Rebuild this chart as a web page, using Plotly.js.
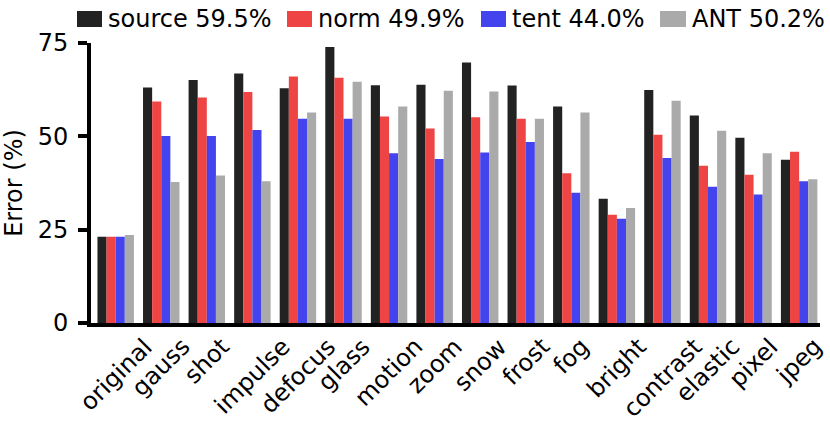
<!DOCTYPE html>
<html>
<head>
<meta charset="utf-8">
<script src="https://cdn.plot.ly/plotly-3.0.1.min.js"></script>
<style>
  html, body { margin: 0; padding: 0; background: #fff; }
  #chart { width: 830px; height: 429px; }
</style>
</head>
<body>
<div id="chart"></div>
<script>
var CATEGORIES = ['original', 'gauss', 'shot', 'impulse', 'defocus', 'glass', 'motion', 'zoom',
                  'snow', 'frost', 'fog', 'bright', 'contrast', 'elastic', 'pixel', 'jpeg'];

var SOURCE = [23.1, 63.1, 65.1, 66.8, 62.9, 73.9, 63.7, 63.8, 69.8, 63.6, 58.0, 33.3, 62.4, 55.6, 49.6, 43.7];
var NORM   = [23.1, 59.3, 60.4, 61.9, 66.0, 65.7, 55.3, 52.1, 55.1, 54.7, 40.1, 29.0, 50.4, 42.1, 39.7, 45.9];
var TENT   = [23.1, 50.1, 50.1, 51.7, 54.7, 54.7, 45.5, 43.9, 45.7, 48.5, 34.9, 27.9, 44.2, 36.5, 34.4, 38.0];
var ANT    = [23.6, 37.8, 39.5, 38.0, 56.4, 64.6, 58.0, 62.2, 62.0, 54.7, 56.4, 30.8, 59.5, 51.5, 45.5, 38.5];

var SERIES_NAMES  = ['source 59.5%', 'norm 49.9%', 'tent 44.0%', 'ANT 50.2%'];
var SERIES_COLORS = ['#222222', '#ee4444', '#4444ee', '#aaaaaa'];
var Y_TICKS = [0, 25, 50, 75];

var CHART = document.getElementById('chart');
var FONT = 'DejaVu Sans, sans-serif';
var FS = 24;

// plot box in pixels, used to place the hand-made legend
var L = 91, T = 43, R = 10, B = 106, W = 830, H = 429;
var PW = W - L - R, PH = H - T - B;
function px(x) { return (x - L) / PW; }
function py(y) { return (H - B - y) / PH; }

var values = [SOURCE, NORM, TENT, ANT];
var data = values.map(function (v, i) {
    return { type: 'bar',
             x: CATEGORIES,
             y: v,
             name: SERIES_NAMES[i],
             marker: {color: SERIES_COLORS[i], line: {width: 0}},
             hoverinfo: 'x+y'
           };
});

// legend swatches and labels (matplotlib-like, above the axes)
var swatchX = [[77, 102], [287, 312], [481, 506], [660, 686]];
var textX   = [106, 316, 510, 690];

var shapes = swatchX.map(function (s, i) {
    return { type: 'rect', xref: 'paper', yref: 'paper',
             x0: px(s[0]), x1: px(s[1]), y0: py(27), y1: py(11),
             fillcolor: SERIES_COLORS[i], line: {width: 0} };
});

var annotations = SERIES_NAMES.map(function (n, i) {
    return { text: n, xref: 'paper', yref: 'paper', x: px(textX[i]), y: py(19),
             xanchor: 'left', yanchor: 'middle', showarrow: false,
             font: {family: FONT, size: FS, color: '#000'} };
});

// category labels, rotated and centred on each group
CATEGORIES.forEach(function (c) {
    annotations.push({ text: c, xref: 'x', yref: 'paper', x: c, y: 0,
                       xanchor: 'center', yanchor: 'top', yshift: -7,
                       textangle: -45, showarrow: false,
                       font: {family: FONT, size: FS, color: '#000'} });
});

var layout = { width: W, height: H,
               showlegend: false,
               barmode: 'group', bargap: 0.2, bargroupgap: 0,
               margin: {l: L, r: R, t: T, b: B, pad: 0},
               paper_bgcolor: '#fff', plot_bgcolor: '#fff',
               font: {family: FONT, size: FS, color: '#000'},
               xaxis: { type: 'category', range: [-0.542, 15.458],
                        showline: true, linewidth: 4, linecolor: '#000',
                        ticks: '', showticklabels: false,
                        showgrid: false, zeroline: false },
               yaxis: { range: [0, 75], tickvals: Y_TICKS,
                        ticks: 'outside', ticklen: 9, tickwidth: 4, tickcolor: '#000',
                        ticklabelstandoff: 5,
                        showline: true, linewidth: 4, linecolor: '#000',
                        showgrid: false, zeroline: false,
                        tickfont: {family: FONT, size: FS, color: '#000'},
                        title: {text: 'Error (%)', standoff: 10,
                                font: {family: FONT, size: FS, color: '#000'}} },
               shapes: shapes,
               annotations: annotations
             };

var config = {'displayModeBar': false, 'responsive': false, 'staticPlot': true};

Plotly.newPlot(CHART, data, layout, config);
</script>
</body>
</html>
